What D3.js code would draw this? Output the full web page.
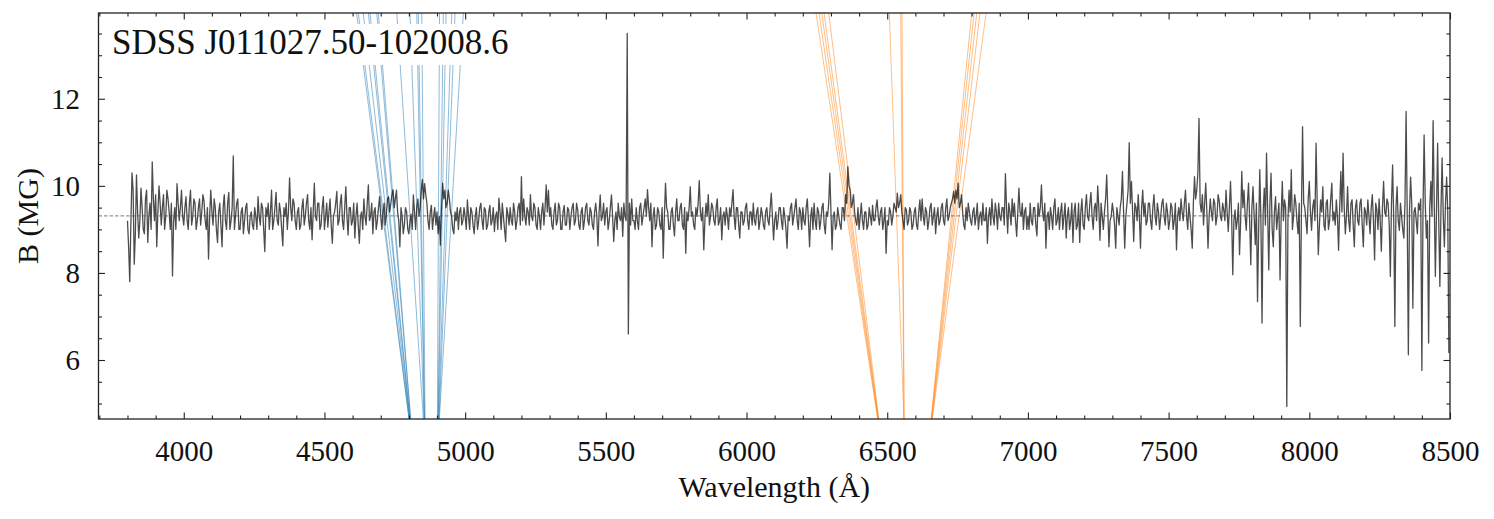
<!DOCTYPE html>
<html>
<head>
<meta charset="utf-8">
<script src="https://cdn.jsdelivr.net/npm/d3@7"></script>
<style>
  body { margin: 0; background: #fff; }
</style>
</head>
<body>
<div id="chart"></div>
<script>
// spectrum grid: first wavelength and step (Angstrom)
const waveStart = 3800;
const waveStep = 4;

// B (MG), one row per 200 A
const fieldB = [
  9.2, 8.6, 7.8, 9.1, 10.3, 9.9, 8.2, 8.9, 10.25, 9.4, 8.8, 9.2, 9.95, 9.5, 9.0, 8.9, 9.7, 9.9, 8.7, 9.3, 9.6, 9.0, 10.55, 9.7, 9.2, 9.8, 8.6, 9.4, 10.0, 9.6, 9.1, 9.5, 9.8, 9.0, 9.3, 9.9, 9.7, 9.4, 9.0, 9.6, 7.93, 9.2, 9.5, 9.0, 10.05, 9.6, 9.2, 9.5, 9.9, 9.3,
  9.1, 9.5, 9.75, 9.2, 9.0, 9.6, 9.9, 9.1, 9.3, 9.7, 9.6, 9.0, 9.2, 9.5, 9.7, 9.1, 9.4, 9.8, 9.65, 9.2, 9.0, 9.5, 8.32, 9.3, 9.9, 9.4, 9.1, 9.7, 9.5, 9.0, 8.7, 9.4, 9.6, 9.1, 8.6, 9.5, 9.8, 9.2, 9.0, 9.6, 9.85, 9.0, 9.2, 9.5, 10.69, 9.0, 9.3, 9.6, 9.7, 9.0,
  9.0, 9.4, 9.5, 8.9, 9.2, 9.5, 9.6, 9.0, 8.9, 9.3, 9.4, 9.1, 9.0, 9.5, 9.3, 9.0, 9.75, 9.3, 9.1, 9.6, 9.5, 9.0, 8.49, 9.5, 9.3, 9.6, 9.0, 9.4, 9.9, 9.0, 9.2, 9.5, 9.85, 9.2, 9.1, 9.6, 9.4, 9.0, 8.62, 9.5, 9.3, 9.6, 9.0, 9.4, 10.18, 9.5, 9.2, 9.7, 9.6, 9.2,
  9.0, 9.4, 9.5, 9.0, 9.1, 9.5, 9.7, 9.1, 9.3, 9.6, 9.8, 9.2, 9.0, 9.5, 8.76, 9.4, 10.06, 9.3, 9.2, 9.6, 9.6, 9.0, 9.1, 9.5, 9.75, 9.0, 9.3, 9.6, 9.05, 9.4, 9.7, 9.1, 8.68, 9.3, 9.4, 9.6, 9.87, 9.1, 9.2, 9.6, 9.8, 9.2, 9.0, 9.5, 9.98, 9.3, 8.87, 9.5, 9.5, 9.1,
  9.2, 9.6, 8.8, 9.3, 9.6, 9.1, 8.68, 9.3, 9.4, 9.0, 9.7, 9.3, 9.1, 9.6, 10.02, 9.2, 9.3, 9.6, 8.9, 9.4, 9.5, 9.0, 9.2, 9.5, 9.75, 9.3, 9.0, 9.4, 9.6, 9.1, 9.35, 9.7, 9.75, 9.4, 9.6, 9.8, 9.91, 9.5, 9.7, 9.9, 9.4, 9.2, 8.6, 9.5, 9.3, 8.9, 9.1, 9.5, 9.4, 9.0,
  8.9, 9.2, 9.35, 9.0, 9.79, 9.4, 9.0, 9.5, 9.7, 9.3, 9.5, 9.9, 10.14, 9.7, 10.05, 9.8, 9.6, 9.2, 9.0, 9.4, 9.55, 9.0, 9.3, 9.5, 9.1, 9.4, 8.9, 9.3, 8.64, 9.5, 10.06, 9.7, 9.9, 9.5, 9.6, 9.9, 9.7, 9.4, 9.3, 9.0, 8.9, 9.4, 9.2, 9.5, 9.0, 9.4, 9.5, 9.1, 9.2, 9.5,
  9.3, 9.0, 9.68, 9.3, 9.0, 9.5, 9.4, 9.1, 8.9, 9.3, 9.5, 9.0, 9.2, 9.5, 9.6, 9.2, 9.0, 9.5, 9.45, 9.0, 9.1, 9.4, 9.55, 9.1, 9.2, 9.5, 8.95, 9.3, 9.4, 9.0, 9.72, 9.4, 9.0, 9.6, 9.3, 9.0, 8.72, 9.5, 9.35, 9.1, 9.5, 9.2, 9.1, 9.6, 9.4, 9.0, 9.2, 9.5, 9.6, 9.1,
  10.21, 9.2, 9.7, 9.3, 9.1, 9.5, 9.4, 9.1, 9.8, 9.3, 9.2, 9.6, 9.5, 9.1, 9.0, 9.5, 9.3, 9.0, 9.4, 9.6, 9.1, 9.5, 10.02, 9.4, 9.9, 9.3, 9.5, 9.1, 9.0, 9.4, 9.6, 9.1, 9.2, 9.6, 9.5, 9.0, 9.0, 9.4, 9.55, 9.1, 9.1, 9.5, 9.45, 9.0, 9.3, 9.5, 9.6, 9.1, 9.2, 9.6,
  9.45, 9.1, 9.0, 9.4, 9.5, 9.0, 9.2, 9.5, 9.6, 9.2, 9.1, 9.5, 9.4, 9.1, 9.0, 9.4, 9.6, 9.3, 8.62, 9.4, 9.79, 9.2, 9.3, 9.6, 9.1, 9.4, 9.5, 9.0, 9.2, 9.5, 9.79, 9.3, 8.72, 9.2, 9.4, 9.0, 9.6, 9.3, 9.2, 9.5, 8.84, 9.6, 9.3, 9.2, 13.5, 6.6, 9.6, 9.1, 9.7, 9.2,
  9.2, 9.0, 9.5, 9.2, 9.0, 9.5, 9.6, 9.1, 9.3, 9.5, 9.7, 9.3, 9.91, 9.5, 9.2, 9.6, 8.6, 9.3, 9.5, 9.0, 9.1, 9.5, 9.4, 9.1, 9.0, 9.5, 8.34, 9.3, 10.06, 9.5, 9.4, 9.0, 9.0, 9.4, 9.5, 9.1, 8.85, 9.4, 9.7, 9.2, 9.2, 9.5, 9.6, 9.1, 9.0, 9.5, 8.45, 9.4, 9.2, 9.5,
  9.98, 9.3, 9.4, 9.1, 9.0, 9.5, 9.3, 9.6, 10.12, 9.4, 9.2, 9.5, 8.53, 9.2, 9.6, 9.3, 9.8, 9.1, 9.3, 9.6, 9.5, 9.2, 9.1, 9.5, 9.7, 9.1, 9.2, 9.5, 8.76, 9.3, 9.4, 9.1, 9.5, 9.3, 9.0, 9.5, 9.3, 9.6, 9.91, 9.3, 9.0, 9.5, 9.5, 9.1, 8.8, 9.4, 9.4, 9.1, 9.2, 9.5,
  9.6, 9.2, 9.0, 9.4, 9.4, 9.1, 9.6, 9.2, 9.1, 9.4, 9.5, 9.0, 9.2, 9.5, 9.35, 9.1, 9.0, 9.4, 9.5, 9.2, 9.1, 9.5, 9.83, 9.3, 8.76, 9.2, 9.4, 9.0, 9.2, 9.5, 9.5, 9.2, 9.0, 9.5, 9.3, 9.0, 8.57, 9.3, 9.2, 9.5, 9.6, 9.1, 9.3, 9.5, 9.7, 9.2, 9.0, 9.5, 9.4, 9.0,
  9.5, 9.2, 9.1, 9.5, 9.7, 9.2, 8.6, 9.3, 9.5, 9.0, 9.6, 9.2, 9.0, 9.5, 9.4, 9.0, 9.2, 9.5, 9.6, 9.1, 8.9, 9.4, 9.3, 9.6, 10.29, 9.4, 8.53, 9.3, 9.4, 9.0, 9.1, 9.5, 9.3, 9.1, 9.0, 9.5, 9.5, 9.2, 9.8, 9.6, 10.44, 10.0, 9.9, 9.5, 9.6, 9.8, 9.4, 9.2, 9.1, 9.5,
  9.0, 9.3, 9.6, 9.2, 9.0, 9.4, 9.4, 9.0, 9.1, 9.5, 9.3, 9.1, 9.55, 9.2, 9.2, 9.5, 9.68, 9.3, 9.1, 9.4, 9.5, 9.0, 9.2, 9.5, 8.45, 9.2, 9.1, 9.5, 9.4, 9.1, 9.3, 9.6, 9.5, 9.4, 9.83, 9.5, 9.6, 9.8, 9.4, 9.2, 9.0, 9.5, 9.45, 9.1, 9.2, 9.5, 9.4, 9.0, 9.1, 9.4,
  9.5, 9.1, 9.0, 9.4, 9.68, 9.2, 9.7, 9.3, 9.1, 9.5, 9.4, 9.0, 9.2, 9.5, 9.6, 9.1, 9.3, 9.5, 8.9, 9.3, 9.5, 9.1, 9.2, 9.5, 9.6, 9.2, 9.1, 9.5, 9.7, 9.2, 9.3, 9.5, 9.6, 9.7, 9.87, 9.6, 9.9, 9.7, 10.06, 9.5, 9.6, 9.8, 9.4, 9.1, 9.0, 9.5, 9.2, 9.6, 9.4, 9.2,
  9.1, 9.4, 9.5, 9.1, 9.3, 9.6, 9.0, 9.3, 9.4, 9.1, 9.6, 9.2, 9.2, 9.5, 8.68, 9.3, 9.5, 9.1, 9.7, 9.3, 9.1, 9.6, 9.4, 9.0, 9.6, 9.3, 9.2, 9.5, 9.5, 9.1, 10.28, 9.5, 8.91, 9.6, 9.4, 9.1, 9.7, 9.3, 9.6, 9.2, 8.84, 9.4, 9.95, 9.4, 9.3, 9.6, 9.0, 9.4, 9.5, 9.0,
  9.3, 9.0, 9.6, 9.2, 9.1, 9.5, 9.5, 9.1, 8.85, 9.6, 9.3, 9.5, 10.02, 9.4, 9.2, 9.6, 8.57, 9.3, 9.4, 9.0, 9.5, 9.3, 9.0, 9.5, 9.7, 9.1, 9.2, 9.5, 9.0, 9.4, 9.6, 9.0, 9.3, 9.6, 8.8, 9.3, 9.5, 9.0, 9.2, 9.6, 8.7, 9.4, 9.6, 9.0, 9.1, 9.6, 8.7, 9.4, 9.7, 9.1,
  9.0, 9.5, 9.8, 9.3, 9.2, 9.6, 9.85, 9.3, 9.0, 9.5, 9.6, 9.2, 10.0, 9.5, 8.75, 9.6, 9.3, 9.0, 9.4, 9.7, 10.25, 9.4, 8.6, 9.2, 9.3, 9.6, 9.4, 9.1, 8.57, 9.5, 9.3, 9.1, 9.5, 9.7, 10.33, 9.4, 8.57, 9.3, 9.6, 9.9, 10.99, 9.6, 10.1, 9.4, 8.72, 9.6, 9.5, 9.2, 9.8, 9.3,
  8.57, 9.5, 9.9, 9.3, 9.6, 9.1, 9.2, 9.6, 9.6, 9.2, 9.0, 9.5, 9.8, 9.3, 9.1, 9.6, 9.4, 9.0, 9.3, 9.6, 9.7, 9.3, 9.1, 9.6, 9.4, 9.0, 9.2, 9.6, 9.5, 9.0, 9.2, 9.6, 8.53, 9.3, 9.5, 9.2, 9.7, 9.4, 9.2, 9.6, 9.9, 9.3, 9.0, 9.6, 9.3, 9.0, 8.57, 9.6, 10.21, 9.7,
  9.9, 10.3, 11.55, 9.6, 9.4, 9.8, 9.1, 9.6, 10.06, 9.4, 8.57, 9.3, 9.7, 9.4, 9.2, 9.7, 9.6, 9.1, 9.3, 9.8, 9.65, 9.3, 9.2, 9.6, 9.45, 9.2, 9.9, 9.4, 8.95, 9.5, 10.1, 9.3, 7.96, 9.2, 9.45, 9.0, 9.2, 9.6, 8.42, 9.2, 10.33, 9.5, 9.9, 9.3, 8.98, 9.6, 10.06, 9.2, 8.19, 9.5,
  9.98, 9.3, 8.65, 9.6, 7.34, 9.0, 10.37, 9.2, 6.85, 9.4, 9.95, 9.1, 10.75, 9.4, 8.07, 9.6, 10.29, 9.0, 8.6, 9.4, 9.75, 9.0, 9.3, 9.6, 7.84, 9.3, 10.1, 9.2, 9.68, 9.5, 4.93, 9.2, 9.9, 9.4, 10.37, 9.0, 9.3, 9.8, 9.6, 9.2, 8.9, 9.6, 6.77, 9.4, 11.36, 9.6, 9.5, 9.2, 8.9, 9.7,
  10.1, 9.4, 8.98, 9.5, 9.68, 9.2, 10.98, 9.6, 8.42, 9.1, 9.68, 9.4, 9.98, 9.1, 8.98, 9.6, 9.68, 9.0, 9.2, 9.7, 10.06, 9.2, 9.4, 9.1, 9.68, 9.3, 8.52, 9.5, 10.33, 9.4, 10.75, 9.5, 8.9, 9.3, 9.98, 9.2, 8.95, 9.6, 9.68, 9.1, 8.6, 9.5, 9.68, 9.2, 9.1, 9.6, 9.7, 9.1, 8.6, 9.5,
  9.4, 9.1, 9.68, 9.3, 8.9, 9.5, 9.8, 9.2, 8.3, 9.6, 9.45, 9.0, 9.7, 9.2, 8.5, 9.5, 10.1, 9.4, 9.3, 9.7, 9.6, 9.1, 7.92, 9.6, 10.48, 9.2, 6.77, 9.5, 9.98, 9.2, 8.98, 9.6, 9.3, 9.0, 8.8, 9.6, 11.71, 9.3, 6.12, 9.4, 10.2, 9.6, 7.19, 9.4, 9.5, 9.2, 8.9, 9.6, 9.45, 9.7,
  5.76, 9.4, 11.17, 9.6, 8.8, 9.2, 6.39, 9.5, 10.1, 9.3, 11.5, 9.6, 7.92, 9.4, 10.98, 9.2, 7.69, 9.5, 10.64, 9.3, 8.6, 9.6, 10.2, 9.4, 6.16
];

const xLimits = [3697, 8500];
const bLimits = [4.645, 13.97];
const xTicks = [4000, 4500, 5000, 5500, 6000, 6500, 7000, 7500, 8000, 8500];
const yTicks = [6, 8, 10, 12];
const refB = 9.31;
const refEnd = 8447;
const title = "SDSS J011027.50-102008.6";

// Zeeman components: wavelength at the lower and at the upper B limit
const hBetaLow  = [4800.5, 4801, 4802.5, 4803.5, 4804, 4806, 4806.5,
                   4851.5, 4854, 4855, 4855.7, 4857.5,
                   4901.2, 4903.7, 4904.5, 4905.5, 4907.3, 4908.3];
const hBetaHigh = [4614, 4620.5, 4638, 4656, 4662, 4686, 4691.5,
                   4757, 4804.2, 4828, 4833.7, 4845.8,
                   4909, 4922.5, 4932.1, 4952.4, 4964.1, 4993.6];
const hAlphaLow  = [6466, 6467, 6468, 6469, 6470,
                    6559, 6559.5, 6560,
                    6656, 6657, 6658, 6659, 6660];
const hAlphaHigh = [6247, 6257.7, 6267.3, 6275.5, 6292.1,
                    6507.5, 6548, 6552.6,
                    6800.3, 6808.5, 6818.1, 6829.8, 6851.2];

const W = 1494, H = 519;
const serif = "Liberation Serif";

const svg = d3.select("#chart").append("svg")
  .attr("width", W).attr("height", H)
  .attr("xmlns", "http://www.w3.org/2000/svg");

const x = d3.scaleLinear().domain(xLimits).range([98.5, 1450]);
const y = d3.scaleLinear().domain(bLimits).range([419, 13]);

const yBottom = y.range()[0], yTop = y.range()[1];
const xLeft = x.range()[0], xRight = x.range()[1];

svg.append("clipPath").attr("id", "plot")
  .append("rect")
  .attr("x", xLeft).attr("y", yTop)
  .attr("width", xRight - xLeft)
  .attr("height", yBottom - yTop);

const plot = svg.append("g").attr("clip-path", "url(#plot)");

const track = d3.line().x(d => x(d[0])).y(d => y(d[1]));

function drawTracks(low, high, color) {
  plot.append("g").selectAll("path")
    .data(low.map((w, i) => [[w, bLimits[0]], [high[i], bLimits[1]]]))
    .join("path")
    .attr("d", track)
    .attr("fill", "none")
    .attr("stroke", color)
    .attr("stroke-width", 1)
    .attr("stroke-opacity", 0.5);
}
drawTracks(hBetaLow, hBetaHigh, "#1f77b4");
drawTracks(hAlphaLow, hAlphaHigh, "#ff7f0e");

const spectrum = fieldB.map((b, i) => [waveStart + i * waveStep, b]);
plot.append("path")
  .attr("d", track(spectrum))
  .attr("fill", "none")
  .attr("stroke", "#000")
  .attr("stroke-opacity", 0.7)
  .attr("stroke-width", 1.3)
  .attr("stroke-linejoin", "round");

plot.append("line")
  .attr("x1", x(xLimits[0])).attr("x2", x(refEnd))
  .attr("y1", y(refB)).attr("y2", y(refB))
  .attr("stroke", "#555")
  .attr("stroke-width", 0.8)
  .attr("stroke-dasharray", "3.5,2");

// label with white box behind it
svg.append("rect")
  .attr("x", 105).attr("y", 24).attr("width", 405).attr("height", 41)
  .attr("fill", "#fff");
svg.append("text")
  .attr("x", 112).attr("y", 54)
  .attr("font-family", serif).attr("font-size", 35).attr("fill", "#111")
  .text(title);

// axes, ticks pointing inward on all four sides
function styleAxis(g) {
  g.select(".domain").remove();
  g.attr("font-family", serif).attr("font-size", 29);
  g.selectAll(".tick line").attr("stroke", "#222").attr("stroke-width", 1.1);
  g.selectAll(".tick text").attr("fill", "#111");
}

const xMinor = d3.range(37, 86).map(d => d * 100).filter(d => d % 500 !== 0 && d >= xLimits[0]);
const yMinor = d3.range(10, 28).map(d => d / 2).filter(d => yTicks.indexOf(d) < 0);

svg.append("g").attr("transform", `translate(0,${yBottom})`)
  .call(d3.axisBottom(x).tickValues(xTicks).tickFormat(d3.format("d")).tickSize(-6.5).tickPadding(21))
  .call(styleAxis);
svg.append("g").attr("transform", `translate(0,${yBottom})`)
  .call(d3.axisBottom(x).tickValues(xMinor).tickFormat("").tickSize(-3.5))
  .call(styleAxis);
svg.append("g").attr("transform", `translate(0,${yTop})`)
  .call(d3.axisTop(x).tickValues(xTicks).tickFormat("").tickSize(-6.5))
  .call(styleAxis);
svg.append("g").attr("transform", `translate(0,${yTop})`)
  .call(d3.axisTop(x).tickValues(xMinor).tickFormat("").tickSize(-3.5))
  .call(styleAxis);

svg.append("g").attr("transform", `translate(${xLeft},0)`)
  .call(d3.axisLeft(y).tickValues(yTicks).tickFormat(d3.format("d")).tickSize(-6.5).tickPadding(18.5))
  .call(styleAxis);
svg.append("g").attr("transform", `translate(${xLeft},0)`)
  .call(d3.axisLeft(y).tickValues(yMinor).tickFormat("").tickSize(-3.5))
  .call(styleAxis);
svg.append("g").attr("transform", `translate(${xRight},0)`)
  .call(d3.axisRight(y).tickValues(yTicks).tickFormat("").tickSize(-6.5))
  .call(styleAxis);
svg.append("g").attr("transform", `translate(${xRight},0)`)
  .call(d3.axisRight(y).tickValues(yMinor).tickFormat("").tickSize(-3.5))
  .call(styleAxis);

svg.append("rect")
  .attr("x", xLeft).attr("y", yTop)
  .attr("width", xRight - xLeft).attr("height", yBottom - yTop)
  .attr("fill", "none").attr("stroke", "#222").attr("stroke-width", 1.3);

svg.append("text")
  .attr("x", (xLeft + xRight) / 2).attr("y", 497)
  .attr("text-anchor", "middle")
  .attr("font-family", serif).attr("font-size", 30).attr("fill", "#111")
  .text("Wavelength (Å)");

svg.append("text")
  .attr("transform", `translate(38,${(yTop + yBottom) / 2}) rotate(-90)`)
  .attr("text-anchor", "middle")
  .attr("font-family", serif).attr("font-size", 30).attr("fill", "#111")
  .text("B (MG)");
</script>
</body>
</html>
